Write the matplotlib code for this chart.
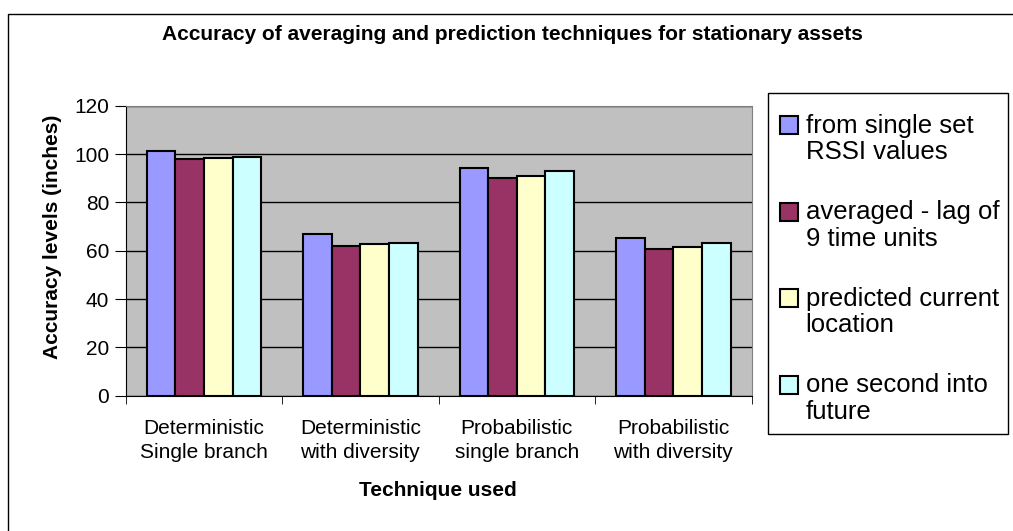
import numpy as np
import matplotlib
matplotlib.use("Agg")
import matplotlib.pyplot as plt
from matplotlib.patches import Rectangle
from matplotlib.legend_handler import HandlerPatch

plt.rcParams['font.family'] = ['Liberation Sans', 'DejaVu Sans']

categories = ["Deterministic\nSingle branch", "Deterministic\nwith diversity",
              "Probabilistic\nsingle branch", "Probabilistic\nwith diversity"]
series_names = ["from single set\nRSSI values", "averaged - lag of\n9 time units",
                "predicted current\nlocation", "one second into\nfuture"]
single_set = [101.2, 66.9, 94.1, 65.1]
averaged = [98.1, 61.8, 90.1, 60.6]
predicted = [98.5, 62.8, 90.8, 61.5]
one_second = [98.9, 63.0, 93.0, 63.3]
colors = ["#9999FF", "#993366", "#FFFFCC", "#CCFFFF"]


# legend swatch next to the first line of a two-line label, like Excel does
class TopSwatch(HandlerPatch):
    def create_artists(self, legend, orig_handle, xdescent, ydescent, width, height,
                       fontsize, trans):
        p = Rectangle((-xdescent, -ydescent + 0.55 * fontsize), width, height)
        self.update_prop(p, orig_handle, legend)
        p.set_transform(trans)
        return [p]


W, H = 1013, 531
fig = plt.figure(figsize=(W / 100, H / 100), dpi=100)
ax = fig.add_axes([125.7 / W, 1 - 395.7 / H, (751.5 - 125.7) / W, 290 / H])
ax.set_facecolor("#C0C0C0")

x = np.arange(len(categories))
w = 0.183
bars = []
for i, vals in enumerate([single_set, averaged, predicted, one_second]):
    b = ax.bar(x + (i - 1.5) * w, vals, w, color=colors[i], edgecolor='black',
               linewidth=1.5, label=series_names[i], zorder=3)
    bars.append(b)

ax.set_xlim(-0.5, 3.5)
ax.set_ylim(0, 120)
ax.set_yticks(range(0, 121, 20))
ax.yaxis.grid(True, color='black', linewidth=1, zorder=1)
ax.set_xticks(x)
ax.set_xticklabels(categories, fontsize=15, linespacing=1.3)
ax.set_xticks(np.arange(-0.5, 4, 1), minor=True)
ax.tick_params(axis='x', which='major', length=0, pad=17)
ax.tick_params(axis='x', which='minor', length=5.5, color='black')
ax.tick_params(axis='y', labelsize=15, length=8, pad=4, direction='out')
for s in ['top', 'right']:
    ax.spines[s].set_color('#808080')
for s in ['left', 'bottom']:
    ax.spines[s].set_color('black')

fig.text(438 / W, 1 - 491 / H, "Technique used", ha='center', va='center',
         fontsize=15, fontweight='bold')
fig.text(52 / W, 1 - 237 / H, "Accuracy levels (inches)", ha='center', va='center',
         rotation=90, fontsize=15, fontweight='bold')
fig.text(512 / W, 1 - 34 / H, "Accuracy of averaging and prediction techniques for stationary assets",
         ha='center', va='center', fontsize=15, fontweight='bold')

# legend box drawn separately
fig.patches.append(Rectangle((768 / W, 1 - 434 / H), 240 / W, 341 / H, transform=fig.transFigure,
                             fill=False, edgecolor='black', linewidth=1))
leg = fig.legend([b[0] for b in bars], series_names,
                 loc='upper left', bbox_to_anchor=(767 / W, 1 - 101 / H), fontsize=18.5,
                 frameon=False, borderpad=0, handlelength=0.7, handleheight=0.7,
                 handletextpad=0.3, labelspacing=1.4,
                 handler_map={Rectangle: TopSwatch()})
for t in leg.get_texts():
    t.set_linespacing(1.13)

# outer chart border (right and bottom edges fall outside the image)
fig.patches.append(Rectangle((8 / W, -20 / H), 1040 / W, 537 / H, transform=fig.transFigure,
                             fill=False, edgecolor='black', linewidth=1))

fig.savefig("out.png", dpi=100)
